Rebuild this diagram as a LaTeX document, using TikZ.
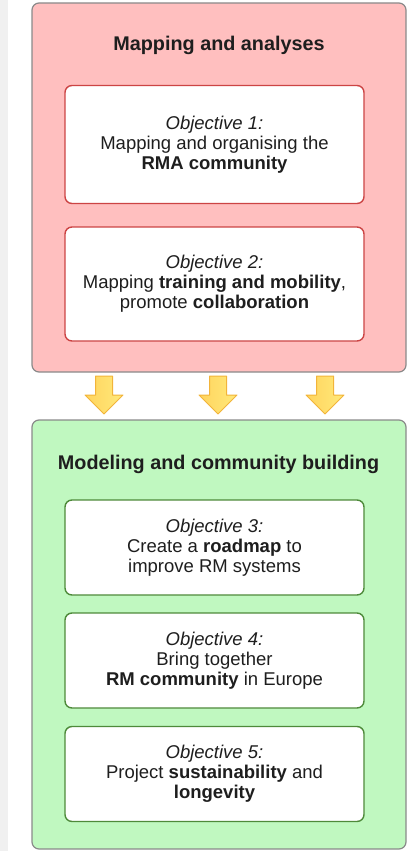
\documentclass[tikz,border=0pt]{standalone}
\usepackage{fontspec}
\setmainfont{Liberation Sans}
\usetikzlibrary{shadings}

\definecolor{redfill}{HTML}{FFBFBF}
\definecolor{redline}{HTML}{CC4444}
\definecolor{greenfill}{HTML}{C0F8C0}
\definecolor{greenline}{HTML}{4E8A3A}
\definecolor{outline}{HTML}{8A8A8A}
\definecolor{arrowline}{HTML}{F2B43A}
\definecolor{arrowleft}{HTML}{FFD45E}
\definecolor{arrowright}{HTML}{FFE97A}
\definecolor{txt}{HTML}{1E1E1E}

\tikzset{
  phase/.style={draw=outline, line width=1.2pt, rounded corners=7pt, minimum width=374pt},
  objred/.style={draw=redline, fill=white, line width=1.4pt, rounded corners=7pt,
    minimum width=299pt, align=center, text=txt, font=\fontsize{18.5}{20}\selectfont},
  objgreen/.style={objred, draw=greenline},
  headline/.style={font=\bfseries\fontsize{19.8}{21}\selectfont, text=txt},
}

\begin{document}
\begin{tikzpicture}[x=1pt,y=-1pt]
  \useasboundingbox (0,0) rectangle (408,851);
  \fill [color=gray!12] (0,0) rectangle (8,851);

  % first phase
  \node [phase, fill=redfill, minimum height=369pt] (mapping) at (219,187.5) {};
  \node [headline] (maptitle) at (219,45.5) {Mapping and analyses};
  \node [objred, minimum height=118pt] (obj1) at (214.5,144.5)
    {\textit{Objective 1:}\\Mapping and organising the\\\textbf{RMA community}};
  \node [objred, minimum height=114pt] (obj2) at (214.5,284)
    {\textit{Objective 2:}\\Mapping \textbf{training and mobility},\\promote \textbf{collaboration}};

  % second phase
  \node [phase, fill=greenfill, minimum height=429pt] (modeling) at (219,634.5) {};
  \node [headline] (modtitle) at (218.5,464) {Modeling and community building};
  \node [objgreen, minimum height=95pt] (obj3) at (214.5,547.5)
    {\textit{Objective 3:}\\Create a \textbf{roadmap} to\\improve RM systems};
  \node [objgreen, minimum height=95pt] (obj4) at (214.5,660.5)
    {\textit{Objective 4:}\\Bring together\\\textbf{RM community} in Europe};
  \node [objgreen, minimum height=95pt] (obj5) at (214.5,774)
    {\textit{Objective 5:}\\Project \textbf{sustainability} and\\\textbf{longevity}};

  % block arrows between the phases
  \foreach \ax in {104,218,325}
    \draw [line width=1pt, color=arrowline, line join=round, left color=arrowleft, right color=arrowright]
      (\ax-8.5,376) -- (\ax+8.5,376) -- (\ax+8.5,395) -- (\ax+19,395) -- (\ax,414)
      -- (\ax-19,395) -- (\ax-8.5,395) -- cycle;
\end{tikzpicture}
\end{document}
